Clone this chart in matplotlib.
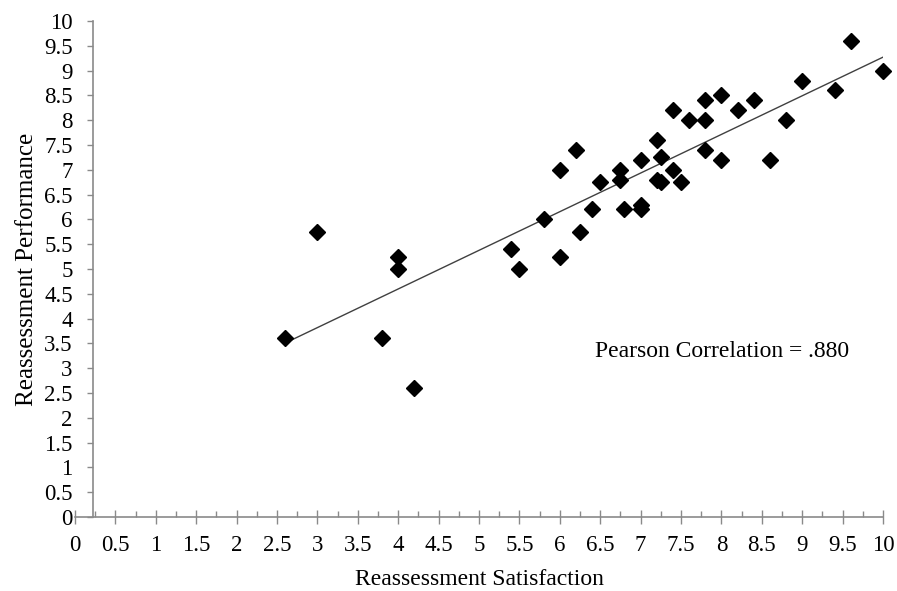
import numpy as np
import matplotlib
matplotlib.use("Agg")
import matplotlib.pyplot as plt
from matplotlib.ticker import MultipleLocator, FormatStrFormatter

# reassessment satisfaction (x) vs performance (y)
satisfaction = [2.6, 3.0, 3.8, 4.0, 4.0, 4.2, 5.4, 5.5, 5.8, 6.0, 6.0, 6.2, 6.25, 6.4,
                6.5, 6.75, 6.75, 6.8, 7.0, 7.0, 7.0, 7.2, 7.2, 7.25, 7.25, 7.4, 7.4,
                7.5, 7.6, 7.8, 7.8, 7.8, 8.0, 8.0, 8.2, 8.4, 8.6, 8.8, 9.0, 9.4, 9.6, 10.0]
performance = [3.6, 5.75, 3.6, 5.25, 5.0, 2.6, 5.4, 5.0, 6.0, 7.0, 5.25, 7.4, 5.75, 6.2,
               6.75, 7.0, 6.8, 6.2, 7.2, 6.3, 6.2, 7.6, 6.8, 7.25, 6.75, 8.2, 7.0,
               6.75, 8.0, 8.4, 8.0, 7.4, 8.5, 7.2, 8.2, 8.4, 7.2, 8.0, 8.8, 8.6, 9.6, 9.0]
note = "Pearson Correlation = .880"

plt.rcParams['font.family'] = ['Liberation Serif', 'DejaVu Serif']

fig = plt.figure(figsize=(8.97, 5.91), dpi=100)
ax = fig.add_axes([75/897, 1-517/591, (883-75)/897, (517-21)/591])

x = np.array(satisfaction)
y = np.array(performance)
slope, icpt = np.polyfit(x, y, 1)
xs = np.array([x.min(), x.max()])
ax.plot(xs, slope*xs + icpt, color='#404040', lw=1.0, zorder=2)
ax.plot(x, y, 'D', color='black', ms=8.5, clip_on=False, zorder=3)

ax.set_xlim(0, 10)
ax.set_ylim(0, 10)

for s in ['top', 'right']:
    ax.spines[s].set_visible(False)
ax.spines['left'].set_position(('data', 0.22))
for s in ['left', 'bottom']:
    ax.spines[s].set_color('#8a8a8a')
    ax.spines[s].set_linewidth(1.2)

ax.xaxis.set_major_locator(MultipleLocator(0.5))
ax.xaxis.set_minor_locator(MultipleLocator(0.25))
ax.yaxis.set_major_locator(MultipleLocator(0.5))
ax.xaxis.set_major_formatter(FormatStrFormatter('%g'))
ax.yaxis.set_major_formatter(FormatStrFormatter('%g'))
ax.tick_params(axis='x', which='major', direction='inout', length=10, width=1,
               color='#8a8a8a', labelsize=16.5, pad=8)
ax.tick_params(axis='x', which='minor', direction='in', length=4, width=1,
               color='#8a8a8a')
ax.tick_params(axis='y', which='major', direction='out', length=4.5, width=1,
               color='#8a8a8a', labelsize=16.5, pad=10)

ax.set_xlabel('Reassessment Satisfaction', fontsize=17, labelpad=9)
ax.set_ylabel('Reassessment Performance', fontsize=18, labelpad=4)

ax.text(6.44, 3.33, note, fontsize=17, ha='left', va='center')

fig.savefig('out.png', dpi=100)
